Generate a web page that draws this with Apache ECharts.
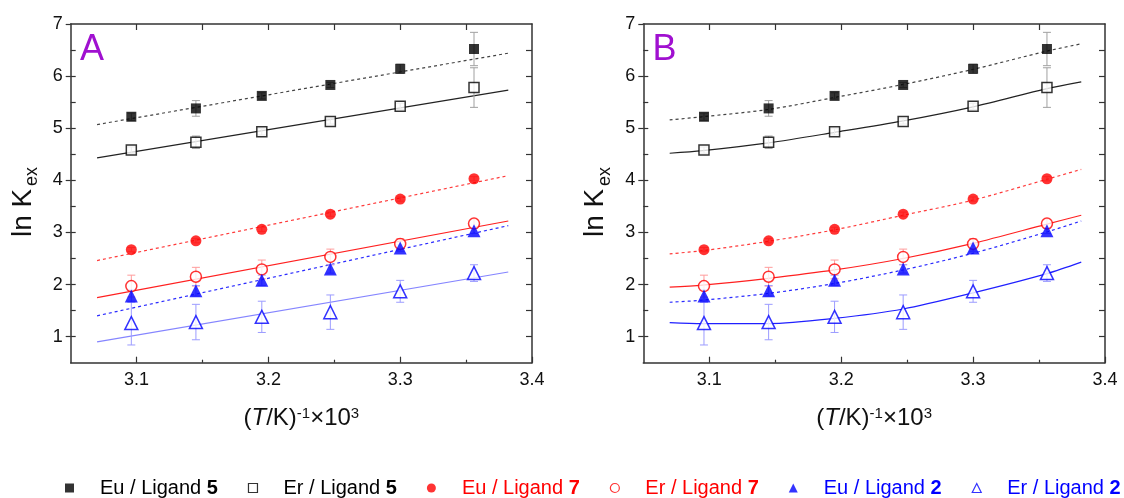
<!DOCTYPE html>
<html><head><meta charset="utf-8">
<script src="https://cdn.jsdelivr.net/npm/echarts@6/dist/echarts.min.js"></script>
<style>html,body{margin:0;padding:0;background:#fff}#c{width:1124px;height:498px}</style>
</head><body><div id="c"></div>
<script>
// ---- data ----
const invT = [3.096, 3.145, 3.195, 3.247, 3.300, 3.356];

const euL5 = [5.22, 5.38, 5.62, 5.83, 6.14, 6.52];
const euL5Err = [0.07, 0.15, 0.06, 0.05, 0.09, 0.32];
const erL5 = [4.58, 4.73, 4.93, 5.13, 5.42, 5.78];
const erL5Err = [0.06, 0.12, 0.06, 0.05, 0.06, 0.38];
const euL7 = [2.67, 2.84, 3.06, 3.35, 3.64, 4.03];
const euL7Err = [0.04, 0.04, 0.04, 0.04, 0.04, 0.04];
const erL7 = [1.97, 2.15, 2.29, 2.53, 2.78, 3.17];
const erL7Err = [0.21, 0.18, 0.18, 0.15, 0.10, 0.08];
const euL2 = [1.78, 1.88, 2.08, 2.30, 2.70, 3.03];
const euL2Err = [0.12, 0.10, 0.10, 0.08, 0.06, 0.05];
const erL2 = [1.26, 1.28, 1.38, 1.47, 1.87, 2.22];
const erL2Err = [0.42, 0.34, 0.30, 0.33, 0.21, 0.16];

// panel A: straight fits (end points)
const fitX = [3.07, 3.382];
const fitA_euL5 = [5.07, 6.44];
const fitA_erL5 = [4.43, 5.73];
const fitA_euL7 = [2.46, 4.09];
const fitA_erL7 = [1.75, 3.22];
const fitA_euL2 = [1.40, 3.13];
const fitA_erL2 = [0.90, 2.24];

// panel B: curved fits
const curveX = [3.07, 3.095, 3.145, 3.195, 3.247, 3.300, 3.356, 3.382];
const fitB_euL5 = [5.16, 5.22, 5.36, 5.59, 5.84, 6.13, 6.48, 6.62];
const fitB_erL5 = [4.52, 4.57, 4.72, 4.92, 5.14, 5.41, 5.76, 5.89];
const fitB_euL7 = [2.59, 2.65, 2.83, 3.05, 3.33, 3.62, 4.02, 4.21];
const fitB_erL7 = [1.95, 1.99, 2.12, 2.28, 2.50, 2.79, 3.16, 3.33];
const fitB_euL2 = [1.66, 1.70, 1.83, 2.02, 2.28, 2.60, 3.01, 3.22];
const fitB_erL2 = [1.27, 1.25, 1.25, 1.35, 1.53, 1.84, 2.21, 2.43];

// ticks
const xTickLabels = [3.1, 3.2, 3.3, 3.4];
const xMinorTicks = [3.15, 3.25, 3.35];
const xTopTicks = [3.1, 3.15, 3.2, 3.25, 3.3, 3.35];
const yTickLabels = [1, 2, 3, 4, 5, 6, 7];
const yAllTicks = [1, 1.5, 2, 2.5, 3, 3.5, 4, 4.5, 5, 5.5, 6, 6.5];

const panelLetters = ['A', 'B'];
const legendNames = ['Eu / Ligand 5', 'Er / Ligand 5', 'Eu / Ligand 7', 'Er / Ligand 7', 'Eu / Ligand 2', 'Er / Ligand 2'];

// ---- styling ----
const FONT = "'Liberation Sans', Arial, sans-serif";
const AX = '#333';
const groups = [
  {name: legendNames[0], y: euL5, err: euL5Err, fA: fitA_euL5, fB: fitB_euL5, color: '#000', open: false, symbol: 'rect', size: 10,
   lineA: '#444', lineB: '#444', dash: true, bar: '#a0a0a0'},
  {name: legendNames[1], y: erL5, err: erL5Err, fA: fitA_erL5, fB: fitB_erL5, color: '#000', open: true, symbol: 'rect', size: 10,
   lineA: '#222', lineB: '#222', dash: false, bar: '#a0a0a0'},
  {name: legendNames[2], y: euL7, err: euL7Err, fA: fitA_euL7, fB: fitB_euL7, color: '#ff0000', open: false, symbol: 'circle', size: 11,
   lineA: '#ff3a3a', lineB: '#ff3a3a', dash: true, bar: '#ff9c9c'},
  {name: legendNames[3], y: erL7, err: erL7Err, fA: fitA_erL7, fB: fitB_erL7, color: '#ff0000', open: true, symbol: 'circle', size: 11,
   lineA: '#ff2020', lineB: '#ff2020', dash: false, bar: '#ff9c9c'},
  {name: legendNames[4], y: euL2, err: euL2Err, fA: fitA_euL2, fB: fitB_euL2, color: '#0000ff', open: false, symbol: 'triangle', size: 13,
   lineA: '#2a2aff', lineB: '#2a2aff', dash: true, bar: '#9c9cff'},
  {name: legendNames[5], y: erL2, err: erL2Err, fA: fitA_erL2, fB: fitB_erL2, color: '#0000ff', open: true, symbol: 'triangle', size: 13,
   lineA: '#8585ff', lineB: '#2020ff', dash: false, bar: '#9c9cff'}
];

const grids = [
  {left: 70.7, top: 24, width: 461.3, height: 338.7, outerBoundsMode: 'none', containLabel: false},
  {left: 643.3, top: 24, width: 461.7, height: 338.7, outerBoundsMode: 'none', containLabel: false}
];

const xAxes = [], yAxes = [];
const xName = '{n|(}{i|T}{n|/K)}{s|-1}{n|\u00d710}{s|3}';
for (let p = 0; p < 2; p++) {
  const base = {type: 'value', gridIndex: p, min: 3.05, max: 3.4, splitLine: {show: false}};
  xAxes.push(Object.assign({}, base, {
    position: 'bottom',
    axisLine: {show: true, onZero: false, lineStyle: {color: AX, width: 1.5}},
    axisTick: {show: true, inside: true, length: 6, customValues: xTickLabels, lineStyle: {color: AX, width: 1.2}},
    axisLabel: {show: true, customValues: xTickLabels, margin: 8, color: '#111', fontSize: 18, fontFamily: FONT,
      formatter: v => v.toFixed(1)},
    name: xName, nameLocation: 'middle', nameGap: 44,
    nameTextStyle: {rich: {
      n: {fontSize: 24, fontFamily: FONT, color: '#111'},
      i: {fontSize: 24, fontFamily: FONT, fontStyle: 'italic', color: '#111'},
      s: {fontSize: 15, fontFamily: FONT, color: '#111', verticalAlign: 'top'}
    }}
  }));
  xAxes.push(Object.assign({}, base, {
    position: 'bottom',
    axisLine: {show: false, onZero: false},
    axisTick: {show: true, inside: true, length: 3, customValues: xMinorTicks, lineStyle: {color: AX, width: 1.2}},
    axisLabel: {show: false}
  }));
  xAxes.push(Object.assign({}, base, {
    position: 'top',
    axisLine: {show: true, onZero: false, lineStyle: {color: AX, width: 1.5}},
    axisTick: {show: true, inside: true, length: 6, customValues: xTopTicks, lineStyle: {color: AX, width: 1.2}},
    axisLabel: {show: false}
  }));
  const ybase = {type: 'value', gridIndex: p, min: 0.5, max: 7, splitLine: {show: false}};
  yAxes.push(Object.assign({}, ybase, {
    position: 'left',
    axisLine: {show: true, onZero: false, lineStyle: {color: AX, width: 1.5}},
    axisTick: {show: true, inside: false, length: 5, customValues: yTickLabels, lineStyle: {color: AX, width: 1.2}},
    axisLabel: {show: true, customValues: yTickLabels, margin: 8, color: '#111', fontSize: 18, fontFamily: FONT}
  }));
  yAxes.push(Object.assign({}, ybase, {
    position: 'left',
    axisLine: {show: false, onZero: false},
    axisTick: {show: true, inside: true, length: 5, customValues: yAllTicks, lineStyle: {color: AX, width: 1.2}},
    axisLabel: {show: false}
  }));
  yAxes.push(Object.assign({}, ybase, {
    position: 'right',
    axisLine: {show: true, onZero: false, lineStyle: {color: AX, width: 1.5}},
    axisTick: {show: true, inside: true, length: 6, customValues: yAllTicks, lineStyle: {color: AX, width: 1.2}},
    axisLabel: {show: false}
  }));
}

const series = [];
for (let p = 0; p < 2; p++) {
  groups.forEach(g => {
    const fx = p === 0 ? fitX : curveX;
    const fy = p === 0 ? g.fA : g.fB;
    series.push({
      type: 'line', name: g.name + ' fit', xAxisIndex: 3 * p, yAxisIndex: 3 * p,
      data: fx.map((x, i) => [x, fy[i]]), showSymbol: false, symbol: 'none',
      smooth: p === 1 ? 0.3 : false,
      lineStyle: {color: p === 0 ? g.lineA : g.lineB, width: 1.2, type: g.dash ? [3, 3] : 'solid'},
      z: 2, silent: true
    });
    series.push({
      type: 'custom', name: g.name + ' err', xAxisIndex: 3 * p, yAxisIndex: 3 * p,
      data: invT.map((x, i) => [x, g.y[i], g.err[i]]),
      encode: {x: 0, y: 1}, z: 3, silent: true,
      renderItem: function (params, api) {
        const x = api.value(0), y = api.value(1), e = api.value(2);
        const t = api.coord([x, y + e]), b = api.coord([x, y - e]);
        const w = 4, st = {stroke: g.bar, lineWidth: 1};
        return {type: 'group', children: [
          {type: 'line', shape: {x1: t[0], y1: t[1], x2: b[0], y2: b[1]}, style: st},
          {type: 'line', shape: {x1: t[0] - w, y1: t[1], x2: t[0] + w, y2: t[1]}, style: st},
          {type: 'line', shape: {x1: b[0] - w, y1: b[1], x2: b[0] + w, y2: b[1]}, style: st}
        ]};
      }
    });
    series.push({
      type: 'scatter', name: g.name, xAxisIndex: 3 * p, yAxisIndex: 3 * p,
      data: invT.map((x, i) => [x, g.y[i]]), symbol: g.symbol, symbolSize: g.size,
      itemStyle: g.open ? {color: '#fff', borderColor: g.color, borderWidth: 1.5} : {color: g.color, borderWidth: 0},
      z: 4
    });
  });
}

const legendData = groups.map(g => ({
  name: g.name, icon: g.symbol,
  itemStyle: g.open ? {color: '#fff', borderColor: g.color, borderWidth: 1.2} : {color: g.color, borderWidth: 0},
  textStyle: {color: g.color}
}));

const graphic = [];
const panelOff = [0, 572.6];
for (let p = 0; p < 2; p++) {
  const o = panelOff[p];
  graphic.push({type: 'text', left: 80 + o, top: 32,
    style: {text: panelLetters[p], fontSize: 36, fontFamily: FONT, fill: '#a010d0'}});
  graphic.push({type: 'text', x: 23 + o, y: 237, rotation: Math.PI / 2,
    style: {text: 'ln K', fontSize: 28, fontFamily: FONT, fill: '#111', align: 'left', verticalAlign: 'middle'}});
  graphic.push({type: 'text', x: 32 + o, y: 186, rotation: Math.PI / 2,
    style: {text: 'ex', fontSize: 18, fontFamily: FONT, fill: '#111', align: 'left', verticalAlign: 'middle'}});
}

const chart = echarts.init(document.getElementById('c'), null, {renderer: 'canvas'});
chart.setOption({
  animation: false,
  backgroundColor: '#fff',
  grid: grids,
  xAxis: xAxes,
  yAxis: yAxes,
  legend: {
    data: legendData, left: 65, top: 478, padding: 0, itemGap: 30, itemWidth: 9, itemHeight: 9,
    selectedMode: false,
    textStyle: {fontSize: 20, fontFamily: FONT, padding: [0, 0, 0, 21],
      rich: {b: {fontWeight: 'bold', fontSize: 20, fontFamily: FONT}}},
    formatter: name => name.replace(/(\d)$/, '{b|$1}')
  },
  graphic: graphic,
  series: series
});
</script>
</body></html>
